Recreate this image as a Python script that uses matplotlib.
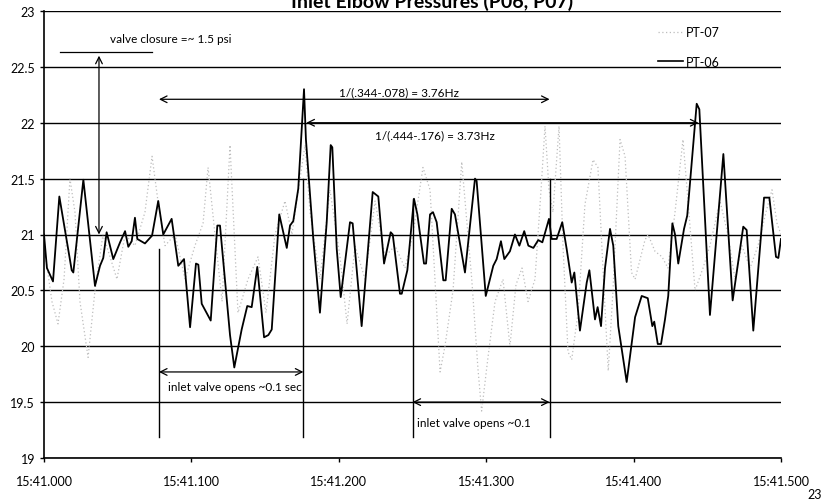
import numpy as np
import matplotlib
matplotlib.use('Agg')
import matplotlib.pyplot as plt
from matplotlib.lines import Line2D

plt.rcParams['font.family'] = ['Lato', 'DejaVu Sans']

# PT-06 (black), time in ms after 15:41.000
t06 = [0, 2.0, 6.1, 10.4, 18.8, 19.9, 26.7, 34.6, 38.0, 40.2, 42.5, 47.0, 51.6, 55.0,
       57.2, 59.5, 61.7, 63.3, 68.5, 73.3, 77.5, 80.9, 86.6, 91.1, 95.0, 99.1, 103.1,
       104.7, 107.0, 113.1, 117.6, 119.4, 126.2, 129.1, 134.1, 137.9, 140.9, 144.7,
       149.3, 152.2, 154.5, 159.6, 164.7, 166.9, 169.1, 172.5, 176.4, 177.7, 182.7,
       187.2, 191.8, 194.5, 195.6, 198.6, 201.3, 207.6, 209.4, 215.5, 223.0, 226.8,
       230.7, 235.2, 236.6, 241.5, 242.7, 246.5, 251.0, 253.3, 257.8, 259.2, 261.9,
       263.9, 266.4, 270.9, 272.5, 276.6, 278.8, 285.6, 292.4, 293.5, 299.7, 304.8,
       307.1, 310.0, 312.3, 316.1, 319.5, 322.5, 325.8, 328.6, 332.0, 335.3, 338.1,
       342.6, 344.4, 347.8, 351.6, 354.6, 358.0, 359.8, 363.6, 368.2, 370.0, 373.8,
       375.6, 377.9, 380.6, 384.0, 386.2, 389.6, 395.3, 401.0, 405.5, 409.6, 412.7,
       414.0, 416.4, 418.6, 421.3, 423.5, 426.3, 428.1, 430.3, 434.2, 436.4, 442.8,
       444.6, 451.8, 460.9, 467.2, 474.4, 476.7, 481.2, 488.5, 492.1, 496.6, 498.2, 500.0]
p06 = [21.00, 20.70, 20.58, 21.34, 20.68, 20.66, 21.49, 20.54, 20.72, 20.79, 21.02, 20.78,
       20.93, 21.03, 20.89, 20.94, 21.15, 20.96, 20.92, 20.99, 21.30, 21.00, 21.14, 20.72,
       20.78, 20.17, 20.74, 20.73, 20.38, 20.23, 21.08, 21.08, 20.10, 19.81, 20.15, 20.36,
       20.35, 20.71, 20.08, 20.10, 20.15, 21.18, 20.88, 21.08, 21.12, 21.41, 22.30, 21.85,
       20.96, 20.30, 21.11, 21.80, 21.78, 20.87, 20.44, 21.11, 21.10, 20.18, 21.38, 21.34,
       20.74, 21.02, 21.00, 20.47, 20.47, 20.68, 21.32, 21.18, 20.74, 20.74, 21.18, 21.20,
       21.11, 20.59, 20.59, 21.23, 21.18, 20.66, 21.50, 21.48, 20.45, 20.72, 20.78, 20.94,
       20.78, 20.85, 21.00, 20.90, 21.03, 20.90, 20.88, 20.95, 20.93, 21.14, 20.96, 20.96,
       21.11, 20.87, 20.57, 20.66, 20.14, 20.57, 20.68, 20.24, 20.35, 20.18, 20.70, 21.05,
       20.90, 20.18, 19.68, 20.26, 20.45, 20.43, 20.18, 20.22, 20.02, 20.02, 20.24, 20.45,
       21.10, 21.00, 20.74, 21.05, 21.17, 22.17, 22.12, 20.28, 21.72, 20.41, 21.07, 21.04,
       20.14, 21.33, 21.33, 20.80, 20.79, 20.96]

# PT-07 (grey dotted)
t07 = [0, 5.4, 9.5, 13.6, 17.6, 21.0, 24.4, 29.9, 34.6, 40.0, 44.8, 49.5, 55.0, 61.7,
       68.5, 73.3, 77.3, 82.1, 88.9, 95.7, 102.4, 107.9, 111.3, 116.0, 120.8, 126.2,
       131.6, 138.4, 145.2, 150.6, 156.7, 163.5, 168.2, 173.7, 177.1, 180.5, 187.2,
       194.0, 200.8, 205.6, 211.0, 217.8, 224.6, 231.3, 238.1, 244.9, 250.3, 257.1,
       261.9, 268.7, 272.0, 277.5, 283.4, 286.3, 290.2, 294.4, 296.9, 301.2, 306.0,
       311.4, 316.1, 320.2, 324.3, 328.4, 333.1, 337.2, 339.9, 342.6, 345.3, 349.4,
       352.1, 355.5, 358.0, 362.3, 367.0, 372.5, 375.8, 379.2, 382.8, 386.0, 390.8,
       394.2, 398.6, 401.0, 407.7, 409.8, 414.5, 419.3, 423.3, 428.1, 433.5, 436.9,
       441.7, 447.1, 451.8, 458.6, 464.0, 468.8, 473.5, 479.0, 484.4, 489.8, 493.9,
       497.3, 500.0]
p07 = [20.9, 20.4, 20.2, 20.6, 21.5, 21.2, 20.4, 19.9, 20.5, 21.0, 20.8, 20.6, 21.0, 20.9,
       21.2, 21.7, 21.3, 20.9, 21.0, 20.6, 20.9, 21.1, 21.6, 21.0, 20.4, 21.8, 20.3, 20.6,
       20.8, 20.3, 21.0, 21.3, 21.0, 21.5, 21.8, 21.2, 20.6, 21.4, 20.8, 20.2, 20.9, 20.6,
       21.3, 20.8, 20.9, 20.7, 21.0, 21.6, 21.4, 19.77, 20.0, 20.5, 21.65, 21.2, 20.6, 19.8,
       19.42, 19.9, 20.4, 20.6, 20.0, 20.55, 20.7, 20.4, 20.6, 21.4, 21.97, 21.4, 21.2,
       21.97, 20.9, 19.95, 19.88, 20.3, 21.27, 21.67, 21.6, 20.7, 19.78, 20.5, 21.85, 21.7,
       20.66, 20.6, 20.95, 21.0, 20.85, 20.8, 20.7, 21.2, 21.85, 21.3, 20.5, 20.7, 20.9,
       21.3, 21.0, 20.6, 20.9, 20.7, 20.9, 21.2, 21.4, 21.1, 21.0]

xticks = [0.0, 0.1, 0.2, 0.3, 0.4, 0.5]
xlabels = ['15:41.000', '15:41.100', '15:41.200', '15:41.300', '15:41.400', '15:41.500']
yticks = [19, 19.5, 20, 20.5, 21, 21.5, 22, 22.5, 23]

fig = plt.figure(figsize=(8.26, 5.02), dpi=100)
ax = fig.add_axes([44/826, 1-459/502, (781-44)/826, (459-12)/502])

for y in yticks:
    ax.axhline(y, color='black', lw=1.0, zorder=1)

t07s = np.array(t07) / 1000
t06s = np.array(t06) / 1000
ax.plot(t07s, p07, color='#bdbdbd', lw=0.9, ls=(0, (1, 2)), zorder=2)
ax.plot(t06s, p06, color='black', lw=1.3, zorder=3)

ax.set_xlim(0, 0.5)
ax.set_ylim(19, 23)
ax.set_xticks(xticks)
ax.set_xticklabels(xlabels)
ax.set_yticks(yticks)
ax.set_yticklabels(['19', '19.5', '20', '20.5', '21', '21.5', '22', '22.5', '23'])
ax.tick_params(axis='both', labelsize=9, length=3, width=1, color='black')
ax.tick_params(axis='x', pad=9)
for s in ['top', 'right']:
    ax.spines[s].set_visible(False)
ax.spines['left'].set_linewidth(1.2)
ax.spines['bottom'].set_linewidth(1.2)

# annotations
arr = dict(arrowstyle='<->', lw=0.9, color='black', mutation_scale=12, shrinkA=0, shrinkB=0)
ax.plot([0.011, 0.073], [22.63, 22.63], color='black', lw=0.9)
ax.annotate('', xy=(0.0373, 22.6), xytext=(0.0373, 21.0), arrowprops=arr)
ax.text(0.0448, 22.75, 'valve closure =~ 1.5 psi', fontsize=8.5, va='center')

ax.annotate('', xy=(0.078, 22.21), xytext=(0.343, 22.21), arrowprops=arr)
ax.text(0.241, 22.28, '1/(.344-.078) = 3.76Hz', fontsize=8.5, ha='center', va='center')
ax.annotate('', xy=(0.178, 22.0), xytext=(0.444, 22.0), arrowprops=arr)
ax.text(0.265, 21.89, '1/(.444-.176) = 3.73Hz', fontsize=8.5, ha='center', va='center')

ax.plot([0.078, 0.078], [20.87, 19.19], color='black', lw=1.0)
ax.plot([0.176, 0.176], [21.5, 19.19], color='black', lw=1.0)
ax.plot([0.250, 0.250], [21.32, 19.19], color='black', lw=1.0)
ax.plot([0.343, 0.343], [21.5, 19.19], color='black', lw=1.0)

ax.annotate('', xy=(0.078, 19.77), xytext=(0.176, 19.77), arrowprops=arr)
ax.text(0.084, 19.64, 'inlet valve opens ~0.1 sec', fontsize=8.5, va='center')
ax.annotate('', xy=(0.250, 19.5), xytext=(0.343, 19.5), arrowprops=arr)
ax.text(0.253, 19.32, 'inlet valve opens ~0.1', fontsize=8.5, va='center')

handles = [Line2D([], [], color='#bdbdbd', lw=0.9, ls=(0, (1, 2))),
           Line2D([], [], color='black', lw=1.2)]
ax.legend(handles, ['PT-07', 'PT-06'], loc='upper left', frameon=False, fontsize=9,
          bbox_to_anchor=(652/826, 1-21/502), bbox_transform=fig.transFigure,
          borderpad=0, handlelength=2.0, handletextpad=0.2, labelspacing=1.4)

fig.text(432/826, 1-8/502, 'Inlet Elbow Pressures (P06, P07)', fontsize=14,
         fontweight='bold', ha='center', va='baseline')
fig.text(815/826, 1-495/502, '23', fontsize=9, ha='center', va='center')

fig.savefig('out.png', dpi=100)
